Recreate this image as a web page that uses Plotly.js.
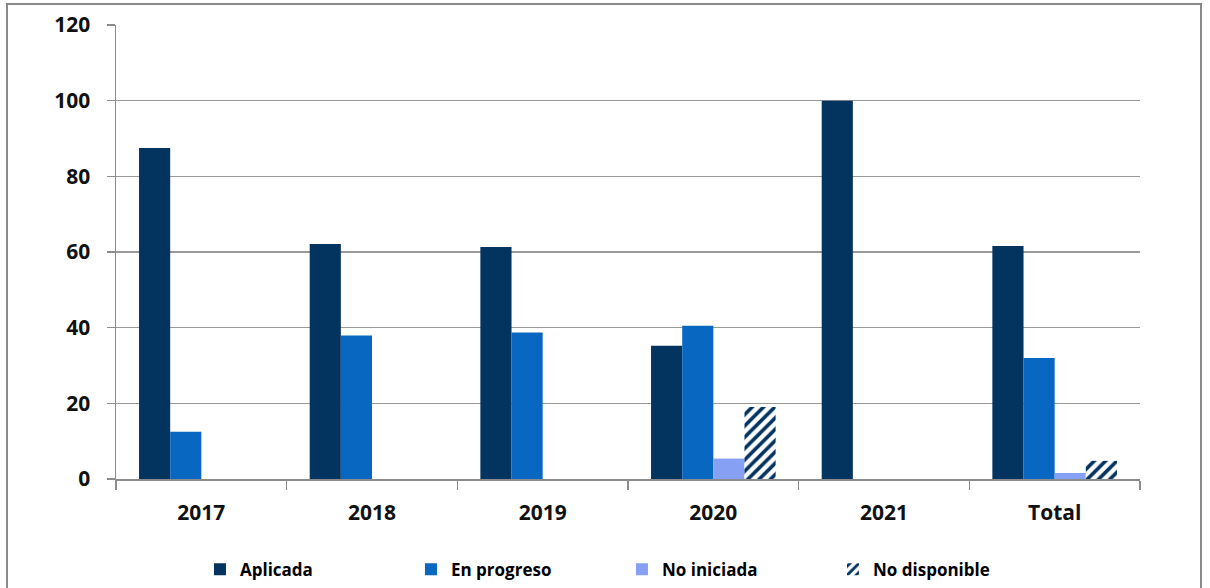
<!DOCTYPE html>
<html>
<head>
<meta charset="utf-8">
<script src="https://cdn.plot.ly/plotly-3.0.1.min.js"></script>
<style>html,body{margin:0;padding:0;background:#fff;}#chart{width:1210px;height:588px;}</style>
</head>
<body>
<div id="chart"></div>
<script>
const categories = ["2017", "2018", "2019", "2020", "2021", "Total"];
const aplicada = [87.5, 62.1, 61.3, 35.2, 100, 61.6];
const enProgreso = [12.5, 37.9, 38.7, 40.5, null, 32.0];
const noIniciada = [null, null, null, 5.4, null, 1.6];
const noDisponible = [null, null, null, 19.0, null, 4.8];
const yTicks = [0, 20, 40, 60, 80, 100, 120];

const font = "'Open Sans', 'Noto Sans', sans-serif";

const traces = [
  {type: "bar", name: "Aplicada", x: categories, y: aplicada, marker: {color: "#03335f"}},
  {type: "bar", name: "En progreso", x: categories, y: enProgreso, marker: {color: "#0868c1"}},
  {type: "bar", name: "No iniciada", x: categories, y: noIniciada, marker: {color: "#86a0f4"}},
  {type: "bar", name: "No disponible", x: categories, y: noDisponible,
   marker: {color: "#ffffff", pattern: {shape: "/", fgcolor: "#03335f", bgcolor: "#ffffff", size: 8, solidity: 0.45}}}
];

const layout = {
  width: 1210, height: 588,
  margin: {l: 116, r: 70, t: 25, b: 109, autoexpand: false},
  paper_bgcolor: "#ffffff", plot_bgcolor: "#ffffff",
  barmode: "group", bargap: 0.27, bargroupgap: 0,
  showlegend: true,
  legend: {orientation: "h", x: 0.082, y: -0.2, xanchor: "left", yanchor: "middle",
           entrywidth: 166, entrywidthmode: "pixels", itemwidth: 30,
           font: {family: font, size: 17, color: "#000", weight: "bold"}, traceorder: "normal"},
  xaxis: {
    type: "category", tickson: "boundaries", ticks: "outside", ticklen: 9, tickcolor: "#8c8c8c", tickwidth: 1.5,
    showline: true, linecolor: "#8c8c8c", linewidth: 1.5, showgrid: false, ticklabelstandoff: 14,
    tickfont: {family: font, size: 21, color: "#111", weight: "bold"}
  },
  yaxis: {
    range: [0, 120], tickvals: yTicks, ticks: "outside", ticklen: 8, tickcolor: "#8c8c8c", tickwidth: 1.5,
    showline: true, linecolor: "#8c8c8c", linewidth: 1.5, ticklabelstandoff: 12,
    showgrid: true, gridcolor: "#9a9a9a", gridwidth: 1.5, zeroline: false,
    tickfont: {family: font, size: 21, color: "#111", weight: "bold"}
  },
  shapes: [
    {type: "rect", xref: "paper", yref: "paper",
     x0: (7 - 116) / 1024, x1: (1201 - 116) / 1024, y0: (479 - 620) / 454, y1: (479 - 4) / 454,
     line: {color: "#8a8a8a", width: 2}, fillcolor: "rgba(0,0,0,0)", layer: "below"}
  ]
};

Plotly.newPlot("chart", traces, layout, {displayModeBar: false, staticPlot: true});
</script>
</body>
</html>
